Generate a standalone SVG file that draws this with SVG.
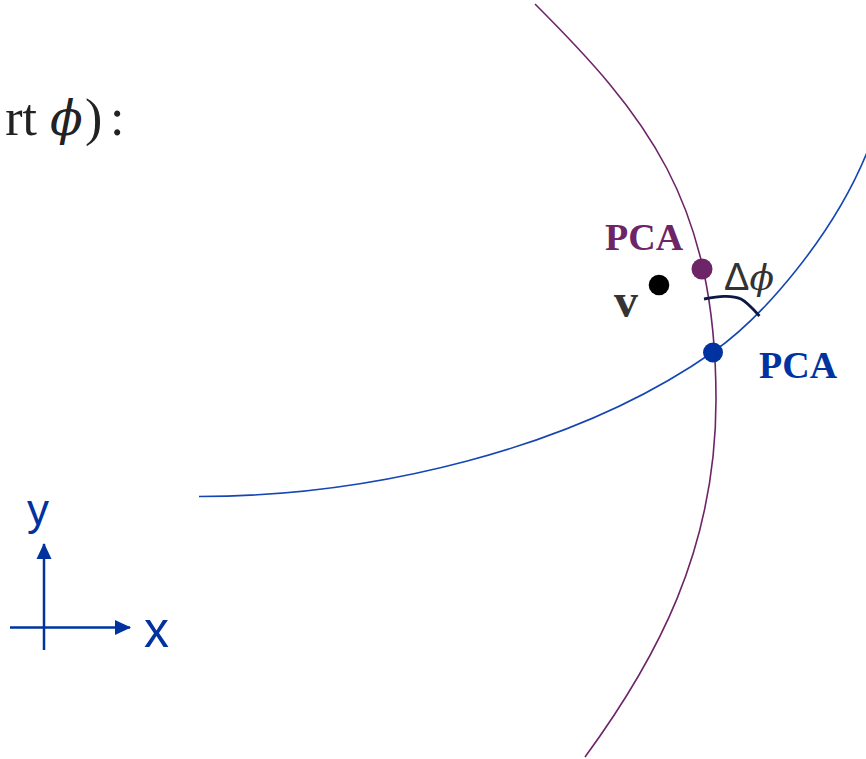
<svg xmlns="http://www.w3.org/2000/svg" width="866" height="759" viewBox="0 0 866 759">
<defs>
<style>
.serif{font-family:"Liberation Serif","DejaVu Serif",serif;}
.lbl{font-family:"Liberation Serif","DejaVu Serif",serif;font-weight:bold;font-size:38px;}
.sans{font-family:"Liberation Sans","DejaVu Sans",sans-serif;}
.phi{font-family:"DejaVu Serif",serif;font-style:italic;}
.axis{stroke:#0033a0;stroke-width:2.5;fill:none;}
</style>
<marker id="ah" viewBox="0 0 16 16" refX="15" refY="8" markerWidth="16" markerHeight="16" markerUnits="userSpaceOnUse" orient="auto">
<path d="M0,0.5 L16,8 L0,15.5 Z" fill="#0033a0"/>
</marker>
</defs>
<rect width="866" height="759" fill="#ffffff"/>
<g id="title">
<text class="serif" x="37" y="135" font-size="52" fill="#222" text-anchor="end">rt</text>
<text class="phi" x="50" y="135" font-size="48" fill="#222">ϕ</text>
<text class="serif" x="85" y="135" font-size="52" fill="#222">)</text>
<text class="serif" x="110" y="135" font-size="52" fill="#222">:</text>
</g>
<g id="connectors">
<path id="purple-curve" fill="none" stroke="#6d2568" stroke-width="1.6" d="M535,4 C645,114 716,200 716,400 C716,550 656,660 585,757"/>
<path id="blue-curve" fill="none" stroke="#1446b4" stroke-width="1.6" d="M199,496.5 C369,496.5 573,450 713,352 C763,317 834,235 868,150"/>
<path id="angle-bracket" fill="none" stroke="#0d1848" stroke-width="2.8" d="M704,299 C718,296.5 731,294.5 741,299 C747,302 754,310 759.5,316"/>
<line class="axis" x1="44" y1="650" x2="44" y2="544" marker-end="url(#ah)"/>
<line class="axis" x1="10" y1="627.5" x2="130" y2="627.5" marker-end="url(#ah)"/>
</g>
<g id="node-pca-purple">
<circle cx="702" cy="269" r="10.5" fill="#6d2568"/>
<text class="lbl" x="605" y="250" fill="#6d2568">PCA</text>
</g>
<g id="node-v">
<circle cx="659" cy="285" r="10.3" fill="#000"/>
<text class="serif" x="614" y="317" font-size="48" font-weight="bold" fill="#333">v</text>
</g>
<g id="node-pca-blue">
<circle cx="713" cy="352.5" r="10" fill="#0033a0"/>
<text class="lbl" x="759" y="378" fill="#0033a0">PCA</text>
</g>
<g id="delta-phi">
<text x="724" y="290" font-size="38" fill="#333"><tspan class="sans">Δ</tspan><tspan class="phi" font-size="36">ϕ</tspan></text>
</g>
<g id="axis-labels">
<text class="sans" x="27" y="525" font-size="44" fill="#0033a0">y</text>
<text class="sans" x="144" y="647" font-size="50" fill="#0033a0">x</text>
</g>
</svg>
